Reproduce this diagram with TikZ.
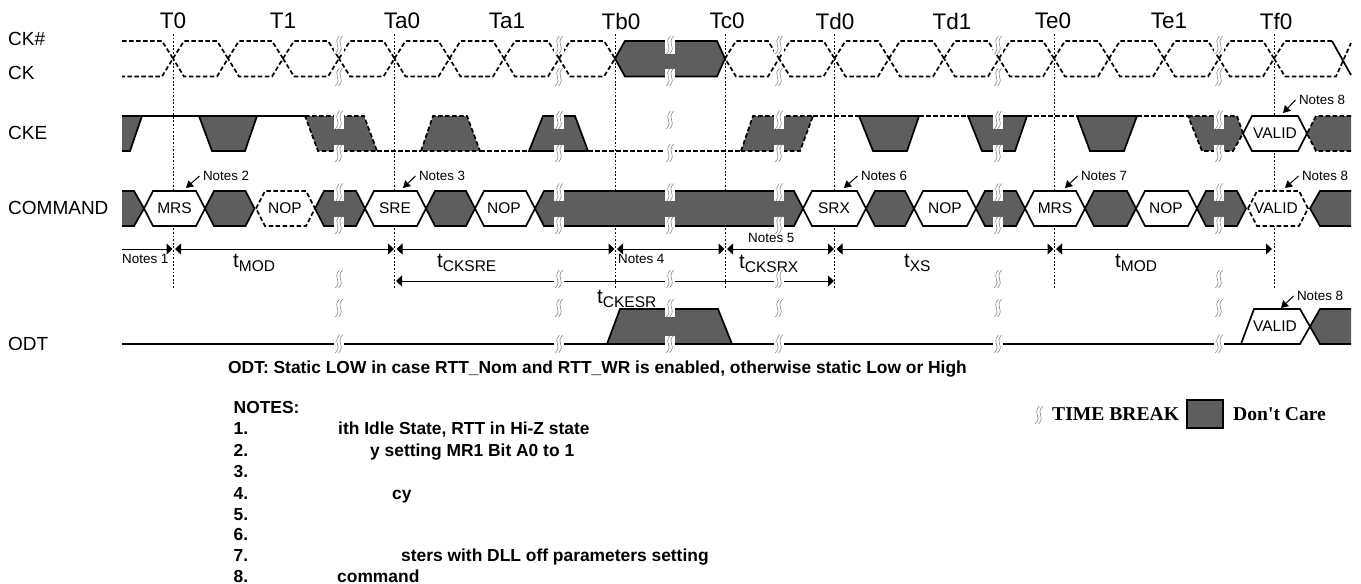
\documentclass[tikz,border=0pt]{standalone}
\usepackage{fontspec}
\setmainfont{Liberation Sans}
\newfontfamily\legendfont{Liberation Serif}
\usetikzlibrary{calc,arrows.meta,positioning}
\definecolor{dcgray}{HTML}{5E5E5E}
\newcommand{\fsz}[1]{\fontsize{#1}{#1}\selectfont}
\newcommand{\tsub}[1]{\fsz{20.5}t\raisebox{-4.5pt}{\fsz{15.5}#1}}
\newcommand{\tbrk}[2]{%
  \fill[white] (#1-5,#2-8.5) rectangle (#1+5,#2+8.5);
  \foreach \off in {-1.6,1.6}
    \draw[brkline] (#1+\off+2,#2-9) .. controls (#1+\off-1.5,#2-5) and (#1+\off-1,#2-2) .. (#1+\off,#2)
      .. controls (#1+\off+1,#2+2) and (#1+\off+1.5,#2+5) .. (#1+\off-2,#2+9);
}
\newcommand{\hexbus}[4]{%
  \draw[#1] (#2,#4) -- (#2+9,#4-17.5) -- (#3-9,#4-17.5) -- (#3,#4) -- (#3-9,#4+17.5) -- (#2+9,#4+17.5) -- cycle;
}
\tikzset{
  sigline/.style={line width=1.7pt,line join=miter},
  sigdash/.style={sigline,dash pattern=on 4.5pt off 2.5pt},
  dcsolid/.style={sigline,fill=dcgray},
  dcdash/.style={sigdash,fill=dcgray},
  vcmd/.style={sigline,fill=white},
  vdash/.style={sigdash,fill=white},
  brkline/.style={draw=gray,line width=0.55pt},
  tick/.style={line width=1pt,dash pattern=on 1.8pt off 1.8pt},
  lbl/.style={anchor=west,inner sep=0pt,font=\fsz{19}},
  tname/.style={inner sep=0pt,font=\fsz{22.5}},
  cmdtxt/.style={inner sep=0pt,font=\fsz{15.5}},
  notetxt/.style={anchor=west,inner sep=0pt,outer xsep=3.5pt,font=\fsz{13.4}},
  plaintxt/.style={anchor=west,inner sep=0pt,font=\fsz{13.4}},
  dimtxt/.style={anchor=base west,inner sep=0pt},
  boldtxt/.style={anchor=base west,inner sep=0pt,font=\fsz{17.4}\bfseries},
  legtxt/.style={anchor=base west,inner sep=0pt,font=\legendfont\fsz{19.6}\bfseries},
  dimr/.style={line width=1pt,-{Triangle[length=6pt,width=11pt]}},
  dimb/.style={line width=1pt,{Triangle[length=6pt,width=11pt]}-{Triangle[length=6pt,width=11pt]}},
  noteptr/.style={line width=1pt,-{Triangle[length=7pt,width=8pt]}},
}
\begin{document}
\begin{tikzpicture}[x=1pt,y=-1pt]
  \useasboundingbox (0,0) rectangle (1361,584);
  \coordinate (top) at (0,34);
  \coordinate (bot) at (0,288);
  \foreach \n/\x in {t0/173,ta0/394.5,tb0/615,tc0/725,td0/834.5,te0/1054,tf0/1274} {
    \coordinate (\n) at (\x,249);
    \draw[tick] (\n |- top) -- (\n |- bot);
  }

  \node[lbl] (lckn) at (8,39) {CK\#};
  \node[lbl] (lck) at (8,73) {CK};
  \node[lbl] (lcke) at (8,133) {CKE};
  \node[lbl] (lcmd) at (8,208) {COMMAND};
  \node[lbl] (lodt) at (8,344) {ODT};

  \foreach \n/\x/\txt in {n0/173/T0,n1/283/T1,n2/402/Ta0,n3/507/Ta1,n4/621/Tb0,n5/727/Tc0,
      n6/835/Td0,n7/952/Td1,n8/1053/Te0,n9/1169/Te1,n10/1276/Tf0}
    \node[tname] (\n) at (\x,21) {\txt};

  % clock
  \draw[sigdash] (122,41) -- (162,41) -- (173,58.5) -- (162,76.5) -- (122,76.5);
  \foreach \a/\b in {173/228,228/283,283/339,339/394.5,394.5/449.5,449.5/504,504/559,559/615,
      725/779,779/834.5,834.5/889,889/944,944/999,999/1054,1054/1109,1109/1164,1164/1219,1219/1274}
    \draw[sigdash] (\a,58.5) -- (\a+11,41) -- (\b-11,41) -- (\b,58.5) -- (\b-11,76.5) -- (\a+11,76.5) -- cycle;
  \draw[dcsolid] (615,58.5) -- (625,41) -- (717,41) -- (725,58.5) -- (717,76.5) -- (625,76.5) -- cycle;
  \draw[sigdash] (1274,58.5) -- (1285,41) -- (1332,41);
  \draw[sigdash] (1274,58.5) -- (1285,76.5) -- (1336,76.5) -- (1351,43);
  \draw[sigline] (1332,41) -- (1351,75);

  % cke
  \draw[dcsolid] (122,116) -- (142,116) -- (130,151) -- (122,151);
  \draw[sigline] (142,116) -- (305,116);
  \draw[dcsolid] (199,116) -- (257,116) -- (245,151) -- (212,151) -- cycle;
  \draw[dcdash] (305,116) -- (364,116) -- (377,151) -- (318,151) -- cycle;
  \draw[sigdash] (377,151) -- (421,151);
  \draw[dcdash] (421,151) -- (433,116) -- (467,116) -- (480,151) -- cycle;
  \draw[sigdash] (480,151) -- (529,151);
  \draw[dcsolid] (529,151) -- (543,116) -- (575,116) -- (588,151) -- cycle;
  \draw[sigdash] (588,151) -- (741,151);
  \draw[dcdash] (741,151) -- (753,116) -- (813,116) -- (800,151) -- cycle;
  \draw[sigdash] (813,116) -- (859,116);
  \draw[dcsolid] (859,116) -- (919,116) -- (907,151) -- (873,151) -- cycle;
  \draw[sigdash] (919,116) -- (968,116);
  \draw[dcsolid] (968,116) -- (1027,116) -- (1015,151) -- (982,151) -- cycle;
  \draw[sigdash] (1027,116) -- (1077,116);
  \draw[dcsolid] (1077,116) -- (1137,116) -- (1124,151) -- (1090,151) -- cycle;
  \draw[sigdash] (1137,116) -- (1188,116);
  \draw[dcdash] (1188,116) -- (1237,116) -- (1243,133.5) -- (1233,151) -- (1202,151) -- cycle;
  \draw[dcdash] (1351,116) -- (1316,116) -- (1307,133.5) -- (1316,151) -- (1351,151);
  \hexbus{vcmd}{1243}{1307}{133.5}
  \node[cmdtxt] (vcke) at (1275,133.5) {VALID};

  % command
  \draw[dcsolid] (122,191) -- (134,191) -- (144,208.5) -- (134,226) -- (122,226);
  \foreach \a/\b in {205/254.5,315/365,426/475,535/803,866/914,976/1025,1085/1136,1197/1246}
    {\hexbus{dcsolid}{\a}{\b}{208.5}}
  \draw[dcsolid] (1351,191) -- (1320,191) -- (1310,208.5) -- (1320,226) -- (1351,226);
  \foreach \a/\b in {144/205,365/426,475/535,803/866,914/976,1025/1085,1136/1197}
    {\hexbus{vcmd}{\a}{\b}{208.5}}
  \hexbus{vdash}{256}{315}{208.5}
  \hexbus{vdash}{1248}{1308}{208.5}
  \foreach \n/\x/\txt in {ca/174.5/MRS,cb/285/NOP,cc/395/SRE,cd/504/NOP,ce/834/SRX,cf/945/NOP,
      cg/1055/MRS,ch/1166/NOP,ci/1276/VALID}
    \node[cmdtxt] (\n) at (\x,208.5) {\txt};

  % odt
  \draw[sigline] (122,344) -- (607,344);
  \draw[dcsolid] (607,344) -- (620,309) -- (718,309) -- (732,344) -- cycle;
  \draw[sigline] (732,344) -- (1241,344);
  \draw[dcsolid] (1351,309) -- (1320,309) -- (1310,326.5) -- (1320,344) -- (1351,344);
  \draw[vcmd] (1241,344) -- (1254,309) -- (1300,309) -- (1310,326.5) -- (1300,344) -- cycle;
  \node[cmdtxt] (vodt) at (1275,326.5) {VALID};

  % timing
  \coordinate (dstart) at (122,249);
  \coordinate (dend) at (834,281);
  \coordinate (lstart) at (396,281);
  \draw[dimr] (dstart) -- ([xshift=-0.5pt]t0);
  \draw[dimb] ([xshift=2pt]t0) -- ([xshift=-0.5pt]ta0);
  \draw[dimb] ([xshift=2pt]ta0) -- ([xshift=-0.5pt]tb0);
  \draw[dimb] ([xshift=2pt]tb0) -- ([xshift=-0.5pt]tc0);
  \draw[dimb] ([xshift=2pt]tc0) -- ([xshift=-0.5pt]td0);
  \draw[dimb] ([xshift=2pt]td0) -- ([xshift=-0.5pt]te0);
  \draw[dimb] ([xshift=2pt]te0) -- ([xshift=-2pt]tf0);
  \draw[dimb] (lstart) -- (dend);

  \node[dimtxt] (dmoda) at (233,267) {\tsub{MOD}};
  \node[dimtxt] (dsre) at (437,267) {\tsub{CKSRE}};
  \node[dimtxt] (dsrx) at (739,268) {\tsub{CKSRX}};
  \node[dimtxt] (desr) at (597,303) {\tsub{CKESR}};
  \node[dimtxt] (dxs) at (904,267) {\tsub{XS}};
  \node[dimtxt] (dmodb) at (1115,267) {\tsub{MOD}};
  \node[plaintxt] (na) at (122,259) {Notes 1};
  \node[plaintxt] (nd) at (618,259) {Notes 4};
  \node[plaintxt] (ne) at (748,238) {Notes 5};

  \foreach \n/\x/\y/\px/\py/\txt in {nb/199.5/176/186/188/Notes 2,nc/415.5/176/403/188/Notes 3,
      nf/857.5/176/844/188/Notes 6,ng/1077.5/176/1065/188/Notes 7,nh/1298.5/176/1285/188/Notes 8,
      ni/1295.5/100/1283/113/Notes 8,nj/1293.5/296/1281/308/Notes 8} {
    \node[notetxt] (\n) at (\x,\y) {\txt};
    \coordinate (\n p) at (\px,\py);
    \draw[noteptr] (\n.west) -- (\n p);
  }

  % breaks
  \foreach \x in {339,559,670,779,998,1219} {
    \foreach \y in {45,77,120,153,192.5,225,279,308,344} {
      \tbrk{\x}{\y}
    }
  }

  % text below
  \node[boldtxt] (odtnote) at (228,373) {ODT: Static LOW in case RTT\_Nom and RTT\_WR is enabled, otherwise static Low or High};
  \node[boldtxt] (notes) at (233.5,413) {NOTES:};
  \foreach \n/\y in {1/434,2/456,3/477.5,4/499,5/520,6/540,7/561,8/582}
    \node[boldtxt] (num\n) at (233.5,\y) {\n.};
  \node[boldtxt] (tone) at (338,434) {ith Idle State, RTT in Hi-Z state};
  \node[boldtxt] (ttwo) at (370,456) {y setting MR1 Bit A0 to 1};
  \node[boldtxt] (tfour) at (392,499) {cy};
  \node[boldtxt] (tseven) at (401,561) {sters with DLL off parameters setting};
  \node[boldtxt] (teight) at (337,582) {command};

  % legend
  \tbrk{1039}{415}
  \node[legtxt] (ltb) at (1052,420) {TIME BREAK};
  \draw[dcsolid,line width=2.2pt] (1187,400) rectangle (1223,428);
  \node[legtxt] (ldc) at (1233,420) {Don't Care};
\end{tikzpicture}
\end{document}
